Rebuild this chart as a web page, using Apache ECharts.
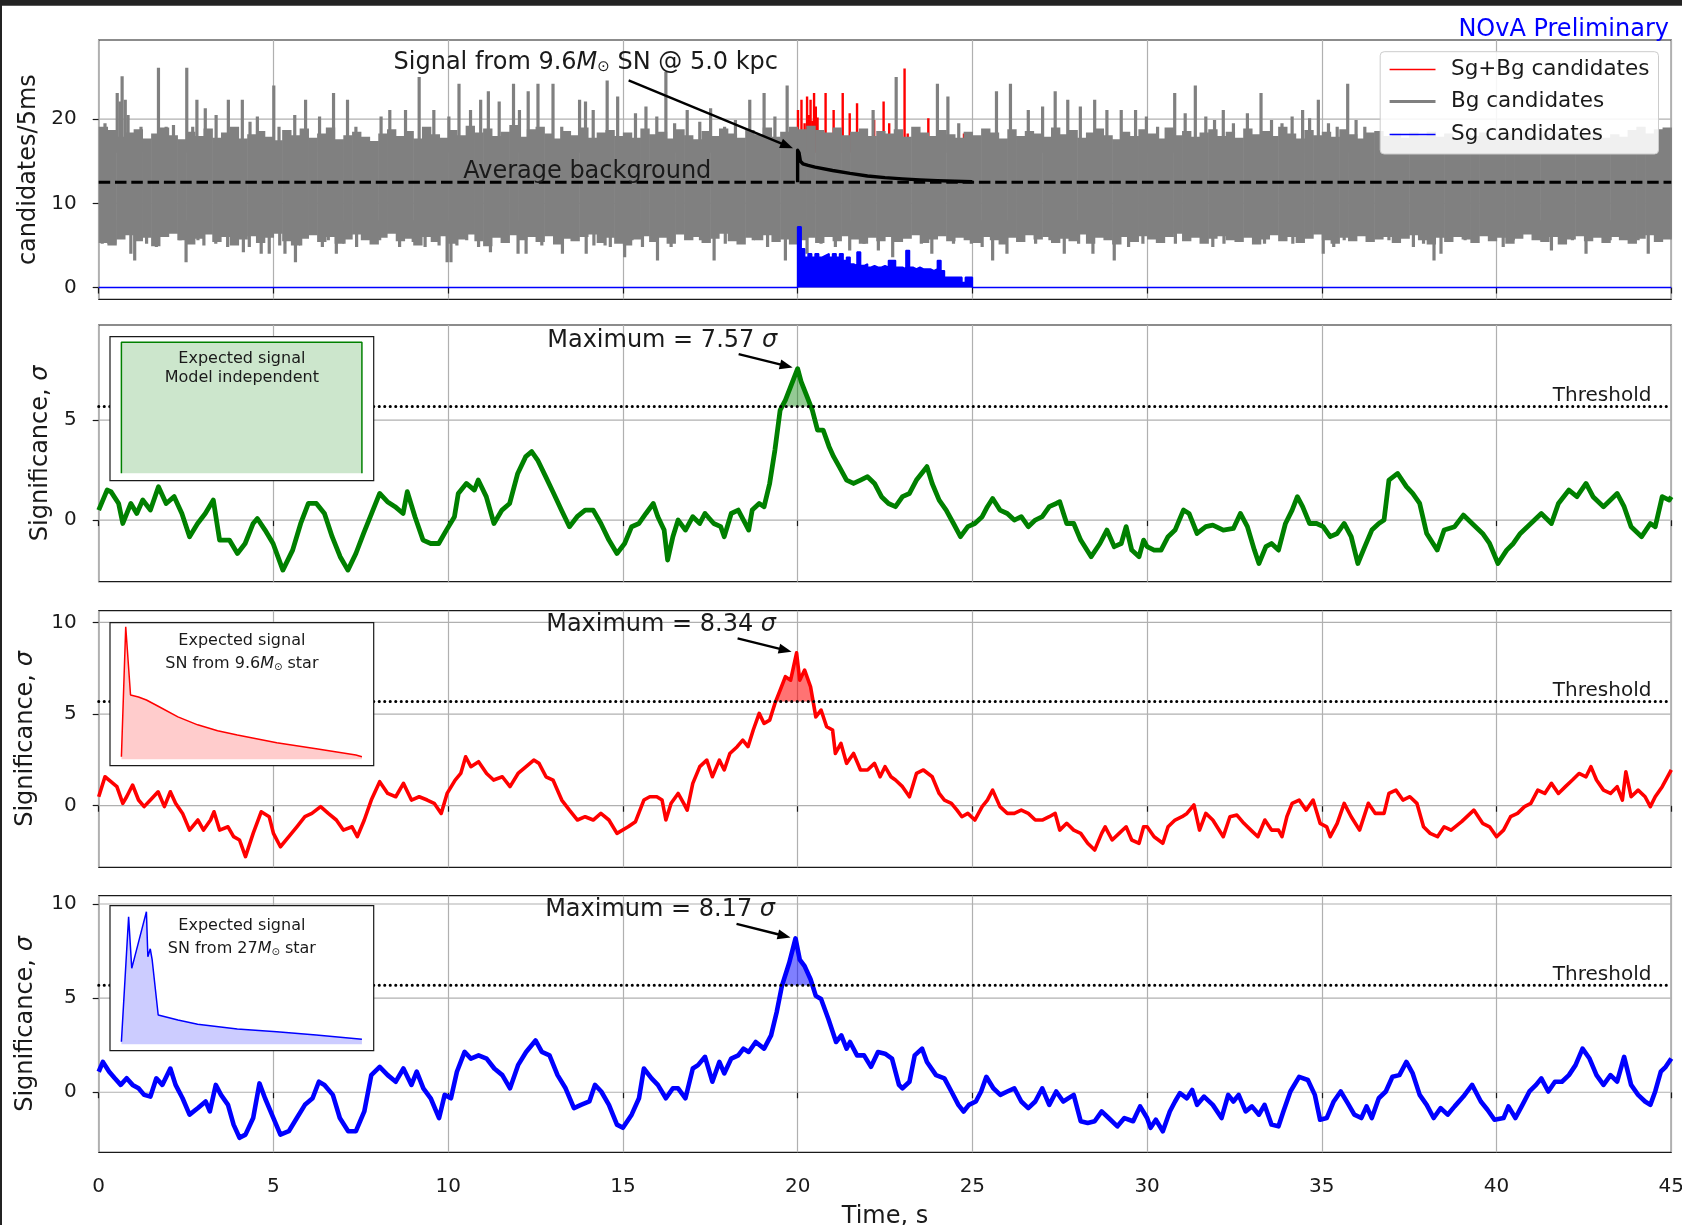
<!DOCTYPE html>
<html>
<head>
<meta charset="utf-8">
<title>NOvA supernova trigger significance</title>
<script src="https://cdn.jsdelivr.net/npm/echarts@6/dist/echarts.min.js"></script>
<style>
  html, body { margin: 0; padding: 0; background: #ffffff; }
  #chart { width: 1682px; height: 1225px; }
</style>
</head>
<body>
<div id="chart"></div>
<script>
// ---------------------------------------------------------------- data
const countTicks = [0, 10, 20];
const sigTicksLow = [0, 5];
const sigTicks = [0, 5, 10];

const AVG_BG = 12.5;        // average background, candidates per 5 ms
const THRESHOLD = 5.68;     // trigger threshold, sigma
const BG_BIN = 0.25;        // seconds per background envelope bin
const SG_START = 20.0;      // supernova signal start, s
const SG_BIN = 0.1;         // seconds per signal envelope bin

// background candidates: solid band envelope per 0.25 s (t = 0 ... 45)
const bgUpper = [
  19.1,18.7,17.9,18.4,18.8,17.7,18.3,19.0,18.1,17.6,
  18.5,18.0,18.9,17.8,18.4,19.1,17.7,18.2,18.6,17.9,
  17.5,18.7,18.1,18.9,17.8,18.3,19.0,17.6,18.1,18.5,
  17.9,17.4,18.3,18.8,18.0,18.6,17.7,19.1,18.2,17.8,
  18.7,18.1,19.2,18.4,18.9,18.0,18.5,19.3,17.9,18.8,
  19.1,18.3,17.7,18.6,18.1,19.0,17.8,18.4,18.7,18.0,
  18.4,17.8,18.9,18.2,18.5,17.7,18.8,18.1,17.6,18.6,
  18.0,18.9,18.3,17.8,18.7,18.2,19.0,17.9,18.5,19.1,
  18.8,19.2,18.7,18.4,19.0,18.1,18.5,18.9,18.0,18.6,
  18.3,18.8,17.9,19.1,18.4,18.0,18.7,18.2,17.8,18.5,
  18.1,18.9,18.4,17.7,18.8,18.0,18.6,18.3,17.9,19.0,
  18.2,18.7,17.8,18.4,18.9,18.1,17.6,18.5,18.0,18.8,
  18.3,17.7,19.0,18.1,18.6,17.9,18.4,18.8,18.0,18.5,
  17.8,18.9,18.2,18.6,18.0,19.1,18.3,17.7,18.7,18.1,
  18.5,17.9,18.8,18.2,17.7,18.4,18.6,18.0,18.3,17.8,
  18.4,18.0,18.5,17.9,18.3,17.7,18.2,18.0,18.4,17.8,
  18.1,18.3,17.7,18.4,17.9,18.2,18.5,17.8,18.1,18.3,
  18.0,18.4,17.8,18.2,17.9,18.7,19.1,18.3,18.8,19.0,
  18.9
];
const bgLower = [
  5.3,5.0,5.7,6.2,5.5,5.9,4.9,6.0,6.4,5.6,
  5.1,5.8,6.3,5.4,6.0,5.0,5.7,6.1,5.3,5.9,
  6.4,5.5,5.0,5.8,6.2,5.4,6.0,5.2,5.7,6.3,
  5.6,5.1,5.9,6.4,5.5,5.8,5.0,6.0,5.4,6.1,
  5.2,5.7,6.3,5.5,4.9,5.9,5.3,6.2,5.6,6.0,
  5.4,6.1,5.1,5.8,5.5,6.0,6.3,5.3,5.9,5.2,
  5.0,5.7,6.1,5.4,5.9,5.2,6.3,5.6,6.0,5.3,
  5.8,6.4,5.5,5.1,5.9,5.6,6.2,5.4,5.7,5.1,
  5.6,5.9,5.3,6.0,5.5,6.1,5.7,5.2,5.9,5.5,
  6.0,5.4,5.8,6.2,5.3,5.7,6.1,5.5,5.9,5.6,
  5.3,6.0,5.6,5.1,5.9,5.4,6.2,5.7,6.0,5.3,
  5.8,5.5,6.3,5.2,5.9,5.6,5.1,6.0,5.4,6.1,
  5.7,5.3,6.0,6.4,5.5,5.9,5.2,5.8,6.1,5.6,
  5.4,5.9,5.1,5.7,6.2,5.5,6.0,5.3,5.8,6.3,
  5.6,5.2,5.9,5.5,6.1,5.4,5.7,6.0,5.3,5.8,
  6.2,5.6,5.1,5.9,5.4,6.0,5.7,5.3,6.1,5.5,
  5.9,5.2,5.8,6.3,5.6,5.4,6.0,5.1,5.7,6.1,
  5.5,5.9,5.3,6.0,5.6,5.2,5.8,6.2,5.4,5.7,
  5.9
];
// background candidates: single-bin excursions outside the band [t, count]
const bgSpikes = [
  [0.1,5.2],[0.18,19.5],[0.29,5.2],[0.46,5.2],[0.53,23.1],[0.61,22.1],[0.67,25.1],[0.76,22.3],[0.84,20.5],[0.92,4.0],
  [1.03,3.2],[1.21,19.1],[1.37,5.2],[1.65,4.8],[1.71,26.1],[1.93,19.1],[2.14,19.3],[2.33,5.6],[2.5,3.0],[2.52,26.1],
  [2.69,19.1],[2.81,22.3],[2.84,5.6],[3.01,5.0],[3.05,21.3],[3.35,5.2],[3.36,20.5],[3.69,4.8],[3.71,22.3],[4.11,22.3],
  [4.14,4.2],[4.31,4.8],[4.33,19.7],[4.54,20.3],[4.65,4.0],[4.88,4.0],[5.01,24.0],[5.16,19.1],[5.18,5.0],[5.33,4.0],
  [5.61,20.5],[5.63,3.0],[5.78,5.0],[5.92,22.3],[6.32,20.3],[6.4,4.8],[6.57,5.6],[6.72,23.1],[6.8,4.0],[7.02,5.2],
  [7.12,22.3],[7.36,19.1],[7.38,4.8],[8.04,5.6],[8.08,20.3],[8.33,21.1],[8.61,4.8],[8.78,21.1],[9.0,5.4],[9.17,25.0],
  [9.34,4.8],[9.59,21.1],[9.74,5.0],[9.97,3.0],[10.02,20.3],[10.08,3.0],[10.25,5.0],[10.31,24.2],[10.53,5.6],[10.64,21.1],
  [10.87,4.8],[10.93,22.3],[11.15,23.3],[11.21,4.2],[11.46,22.1],[11.66,5.6],[11.87,24.2],[12.0,4.0],[12.04,21.1],[12.23,4.0],
  [12.29,23.3],[12.57,24.2],[12.68,5.0],[13.0,24.2],[13.25,19.1],[13.27,4.0],[13.76,22.3],[13.93,22.1],[13.95,4.0],[14.15,21.1],
  [14.17,5.0],[14.49,5.0],[14.55,24.6],[14.64,4.8],[14.85,22.7],[15.05,3.6],[15.26,5.6],[15.36,20.7],[15.56,4.8],[15.66,21.5],
  [15.97,20.3],[15.99,3.2],[16.23,25.6],[16.38,4.8],[16.48,19.5],[16.84,21.1],[17.2,19.7],[17.22,5.6],[17.51,21.3],[17.61,3.2],
  [17.91,19.1],[17.93,5.2],[18.22,19.9],[18.32,5.2],[18.63,22.3],[18.73,5.6],[19.04,23.1],[19.14,4.8],[19.35,20.3],[19.65,3.2],
  [19.7,24.0],[20.27,4.0],[20.67,5.2],[21.08,4.8],[21.49,4.4],[21.9,5.2],[22.16,21.1],[22.31,4.4],[22.72,3.6],[22.82,25.0],
  [23.54,5.2],[23.84,4.0],[24.0,24.2],[24.3,22.7],[24.46,5.2],[24.61,19.5],[24.97,5.2],[25.28,4.8],[25.58,3.2],[25.69,23.3],
  [25.99,4.0],[26.09,24.2],[26.4,5.6],[26.6,21.1],[26.81,5.2],[27.01,21.5],[27.22,5.6],[27.37,23.3],[27.63,4.0],[27.73,22.3],
  [28.04,5.2],[28.09,21.5],[28.45,4.0],[28.5,22.3],[28.85,21.1],[29.06,3.2],[29.26,21.1],[29.47,4.8],[29.67,21.1],[29.88,5.2],
  [29.98,20.3],[30.3,19.1],[30.4,5.6],[30.79,23.1],[30.81,5.2],[31.09,20.7],[31.19,5.6],[31.38,24.0],[31.68,20.3],[31.88,4.8],
  [31.93,19.9],[32.18,21.1],[32.2,5.2],[32.47,19.5],[32.57,5.6],[32.87,20.7],[33.26,23.1],[33.36,5.2],[33.56,19.9],[33.86,19.5],
  [33.96,5.6],[34.15,20.3],[34.17,5.2],[34.45,21.1],[34.65,20.1],[34.9,22.3],[35.04,4.0],[35.19,19.5],[35.34,4.8],[35.44,19.1],
  [35.64,5.6],[35.74,24.2],[35.98,19.9],[36.23,19.1],[36.33,5.6],[36.63,18.3],[36.92,5.6],[37.62,4.8],[37.91,5.2],[38.21,3.2],
  [38.41,4.0],[38.7,5.6],[39.1,5.6],[39.89,5.6],[40.19,4.8],[40.48,5.6],[41.28,5.6],[41.57,4.4],[41.87,5.2],[42.17,5.6],
  [42.56,4.0],[43.25,5.6],[44.05,5.6],[44.34,4.0],[44.84,18.7]
];
// signal + background: bins that rise above the background [t, count]
const sgBgSpikes = [
  [20.01,21.1],[20.11,22.3],[20.2,19.5],[20.27,22.7],[20.32,20.5],[20.37,22.3],[20.42,19.8],[20.47,23.1],[20.52,21.5],
  [20.57,20.2],[20.62,18.3],[20.8,23.1],[21.03,21.1],[21.29,23.1],[21.49,20.7],[21.7,21.9],[21.9,18.3],[22.19,19.9],
  [22.46,22.1],[22.62,19.5],[23.06,26.0],[23.15,18.3],[23.38,18.2],[23.74,20.1],[24.76,18.3]
];
// signal candidates: envelope per 0.1 s from t = 20.0 to 24.9
const sgEnvelope = [
  7.2,4.6,3.6,4.0,3.6,4.0,3.6,3.8,4.0,3.6,
  4.0,3.6,4.0,3.2,3.6,2.8,2.6,4.2,2.6,2.8,
  2.4,2.6,2.4,2.4,2.6,2.4,3.2,3.2,2.4,2.4,
  2.2,4.4,2.4,2.2,2.4,2.2,2.2,2.2,2.0,2.2,
  3.2,2.0,1.2,1.2,1.2,1.2,1.2,0.6,1.2,1.2
];
// expected rate: background plus 9.6 Msun signal at 5 kpc [t, candidates/5ms]
const sgExpected = [
  [20,12.5],[20,16.3],[20.04,16.0],[20.08,15.0],[20.15,14.7],[20.3,14.5],[20.5,14.3],[21,13.9],
  [21.5,13.55],[22,13.25],[22.5,13.05],[23,12.9],[23.5,12.78],[24,12.7],[24.5,12.62],[25,12.57]
];

// significance vs time [t, sigma]
const sigModelIndep = [
  [0,0.5],[0.24,1.5],[0.35,1.42],[0.57,0.83],[0.69,-0.17],[0.92,0.83],[1.09,0.33],[1.26,1.0],[1.48,0.5],[1.71,1.67],
  [1.93,0.83],[2.16,1.17],[2.38,0.33],[2.6,-0.83],[2.83,-0.17],[3.05,0.33],[3.28,1.0],[3.46,-1.0],[3.74,-1.0],[3.97,-1.67],
  [4.19,-1.17],[4.42,-0.17],[4.54,0.08],[4.76,-0.5],[4.99,-1.17],[5.27,-2.5],[5.55,-1.5],[5.78,-0.17],[6.0,0.83],[6.23,0.83],
  [6.46,0.33],[6.68,-0.83],[6.91,-1.83],[7.13,-2.5],[7.36,-1.67],[7.58,-0.67],[7.81,0.33],[8.04,1.33],[8.26,0.92],[8.48,0.67],
  [8.71,0.33],[8.83,1.42],[9.05,0.17],[9.28,-1.0],[9.5,-1.17],[9.73,-1.17],[9.95,-0.5],[10.18,0.17],[10.29,1.33],[10.52,1.83],
  [10.75,1.5],[10.86,2.0],[11.09,1.17],[11.31,-0.17],[11.54,0.5],[11.76,0.83],[11.99,2.33],[12.22,3.17],[12.39,3.42],[12.56,3.0],
  [12.79,2.17],[13.02,1.33],[13.24,0.5],[13.47,-0.33],[13.69,0.17],[13.92,0.5],[14.15,0.5],[14.37,-0.17],[14.6,-1.0],[14.83,-1.67],
  [15.05,-1.17],[15.25,-0.33],[15.46,-0.17],[15.66,0.33],[15.87,0.83],[16.0,0.17],[16.18,-0.5],[16.28,-2.0],[16.43,-0.83],[16.58,0.0],
  [16.79,-0.5],[17.0,0.17],[17.2,-0.17],[17.35,0.33],[17.6,-0.17],[17.8,-0.33],[17.9,-0.83],[18.1,0.33],[18.3,0.5],[18.5,-0.17],
  [18.6,-0.5],[18.7,0.5],[18.9,0.83],[19.04,0.67],[19.2,1.83],[19.35,3.5],[19.5,5.5],[19.65,6.0],[19.8,6.67],[20.0,7.57],
  [20.1,6.92],[20.27,6.17],[20.42,5.5],[20.57,4.5],[20.73,4.5],[20.9,3.67],[21.03,3.17],[21.19,2.67],[21.4,2.0],[21.6,1.83],
  [21.8,2.0],[22.0,2.17],[22.2,1.83],[22.4,1.17],[22.6,0.83],[22.8,0.67],[23.0,1.17],[23.2,1.33],[23.4,2.0],[23.7,2.67],
  [23.85,1.83],[24.05,1.0],[24.25,0.5],[24.46,-0.17],[24.66,-0.83],[24.87,-0.33],[25.07,-0.17],[25.28,0.17],[25.43,0.67],[25.58,1.08],
  [25.79,0.5],[26.0,0.33],[26.2,0.0],[26.4,0.17],[26.6,-0.33],[26.8,0.0],[27.0,0.17],[27.2,0.67],[27.4,0.83],[27.5,0.92],
  [27.7,-0.17],[27.9,-0.17],[28.1,-1.0],[28.4,-1.83],[28.65,-1.17],[28.85,-0.5],[29.06,-1.33],[29.26,-1.17],[29.4,-0.33],[29.56,-1.5],
  [29.77,-1.83],[29.9,-1.0],[30.0,-1.33],[30.2,-1.5],[30.4,-1.5],[30.6,-0.83],[30.8,-0.5],[31.04,0.5],[31.2,0.33],[31.43,-0.67],
  [31.68,-0.33],[31.88,-0.25],[32.18,-0.5],[32.47,-0.42],[32.67,0.33],[32.87,-0.33],[33.07,-1.5],[33.2,-2.17],[33.4,-1.33],[33.56,-1.17],
  [33.76,-1.5],[33.96,-0.17],[34.15,0.5],[34.3,1.17],[34.45,0.67],[34.65,-0.17],[34.85,-0.17],[35.04,-0.33],[35.24,-0.83],[35.44,-0.67],
  [35.64,-0.17],[35.84,-0.83],[36.03,-2.17],[36.23,-1.33],[36.43,-0.5],[36.63,-0.17],[36.78,0.0],[36.92,2.0],[37.17,2.33],[37.42,1.67],
  [37.6,1.33],[37.8,0.83],[38.0,-0.67],[38.3,-1.5],[38.5,-0.5],[38.8,-0.33],[39.05,0.25],[39.3,-0.17],[39.6,-0.67],[39.8,-1.17],
  [40.04,-2.17],[40.29,-1.5],[40.48,-1.17],[40.68,-0.67],[40.98,-0.17],[41.28,0.33],[41.57,-0.17],[41.77,0.83],[42.07,1.5],[42.3,1.17],
  [42.56,1.83],[42.76,1.17],[43.06,0.67],[43.45,1.33],[43.65,0.67],[43.85,-0.33],[44.15,-0.83],[44.4,-0.17],[44.54,-0.33],[44.74,1.17],
  [44.94,1.0],[45,1.17]
];
const sigSN96 = [
  [0,0.49],[0.18,1.58],[0.35,1.31],[0.52,1.04],[0.69,0.13],[0.8,0.49],[0.97,1.13],[1.14,0.31],[1.3,-0.05],[1.48,0.31],
  [1.7,0.76],[1.88,-0.05],[2.05,0.76],[2.2,0.13],[2.4,-0.42],[2.6,-1.33],[2.84,-0.78],[3.0,-1.33],[3.2,-0.78],[3.3,-0.33],
  [3.46,-1.33],[3.7,-1.15],[3.86,-1.69],[4.03,-1.87],[4.2,-2.78],[4.42,-1.51],[4.65,-0.33],[4.88,-0.6],[5.0,-1.51],[5.2,-2.24],
  [5.44,-1.69],[5.67,-1.15],[5.9,-0.6],[6.1,-0.42],[6.35,-0.05],[6.57,-0.42],[6.8,-0.78],[7.0,-1.33],[7.25,-1.15],[7.4,-1.69],
  [7.6,-0.78],[7.8,0.31],[8.04,1.31],[8.27,0.67],[8.5,0.49],[8.72,1.22],[8.95,0.31],[9.17,0.49],[9.4,0.31],[9.6,0.13],
  [9.8,-0.42],[9.97,0.67],[10.2,1.4],[10.36,1.76],[10.5,2.67],[10.65,2.13],[10.87,2.4],[11.1,1.76],[11.3,1.4],[11.55,1.58],
  [11.77,1.04],[12.0,1.76],[12.23,2.13],[12.45,2.49],[12.6,2.31],[12.8,1.58],[13.0,1.4],[13.25,0.31],[13.47,-0.24],[13.7,-0.78],
  [13.92,-0.6],[14.15,-0.78],[14.37,-0.42],[14.6,-0.78],[14.83,-1.51],[15.15,-1.15],[15.36,-0.87],[15.6,0.31],[15.77,0.49],[15.97,0.49],
  [16.12,0.31],[16.23,-0.78],[16.38,0.13],[16.58,0.67],[16.74,0.13],[16.84,-0.24],[17.0,1.22],[17.2,2.13],[17.4,2.49],[17.56,1.58],
  [17.76,2.49],[17.9,1.95],[18.06,2.85],[18.27,3.22],[18.43,3.58],[18.58,3.22],[18.73,4.13],[18.9,5.04],[19.04,4.49],[19.2,4.67],
  [19.35,5.58],[19.5,6.31],[19.65,7.04],[19.8,6.85],[19.97,8.34],[20.06,6.85],[20.2,7.4],[20.37,6.49],[20.52,4.85],[20.67,5.22],
  [20.83,4.31],[21.0,4.13],[21.08,2.85],[21.24,3.4],[21.4,2.31],[21.6,2.85],[21.8,1.95],[22.0,1.95],[22.2,2.31],[22.36,1.58],
  [22.5,2.13],[22.67,1.58],[22.8,1.4],[23.0,1.04],[23.2,0.49],[23.4,1.76],[23.6,1.95],[23.85,1.58],[24.05,0.67],[24.2,0.31],
  [24.4,0.13],[24.56,-0.24],[24.7,-0.6],[24.87,-0.42],[25.07,-0.78],[25.28,-0.05],[25.43,0.31],[25.58,0.85],[25.79,-0.05],[26.0,-0.42],
  [26.2,-0.42],[26.4,-0.24],[26.6,-0.42],[26.8,-0.78],[27.0,-0.78],[27.2,-0.6],[27.37,-0.42],[27.5,-1.33],[27.7,-0.96],[27.9,-1.33],
  [28.1,-1.51],[28.3,-2.05],[28.5,-2.42],[28.7,-1.51],[28.8,-1.15],[29.0,-1.87],[29.2,-1.51],[29.4,-1.15],[29.56,-1.87],[29.77,-2.05],
  [29.9,-1.15],[30.0,-1.15],[30.2,-1.69],[30.45,-2.05],[30.6,-1.15],[30.8,-0.78],[31.0,-0.6],[31.14,-0.42],[31.34,0.04],[31.5,-1.33],
  [31.68,-0.42],[31.88,-0.78],[32.18,-1.69],[32.37,-0.6],[32.57,-0.51],[32.77,-0.96],[32.97,-1.33],[33.17,-1.69],[33.37,-0.78],[33.56,-1.33],
  [33.76,-1.33],[33.86,-1.69],[34.0,-0.6],[34.15,0.13],[34.35,0.31],[34.55,-0.24],[34.75,0.31],[34.95,-0.96],[35.14,-1.15],[35.24,-1.69],
  [35.44,-0.96],[35.64,0.13],[35.84,-0.6],[36.08,-1.33],[36.33,0.13],[36.53,-0.42],[36.78,-0.42],[36.92,0.67],[37.12,0.85],[37.32,0.31],
  [37.52,0.49],[37.72,0.13],[37.91,-1.15],[38.1,-1.51],[38.31,-1.69],[38.5,-1.15],[38.7,-1.33],[39.0,-0.87],[39.35,-0.24],[39.6,-0.96],
  [39.8,-1.15],[40.0,-1.69],[40.2,-1.33],[40.4,-0.6],[40.6,-0.42],[40.8,-0.05],[40.98,0.13],[41.18,0.85],[41.38,0.67],[41.57,1.22],
  [41.77,0.67],[41.97,1.04],[42.17,1.4],[42.36,1.76],[42.56,1.58],[42.7,2.13],[42.86,1.4],[43.06,0.85],[43.26,0.67],[43.45,1.04],
  [43.6,0.31],[43.7,1.85],[43.85,0.49],[44.05,0.85],[44.25,0.49],[44.4,-0.05],[44.54,0.49],[44.74,1.04],[45.0,1.95]
];
const sigSN27 = [
  [0,1.09],[0.12,1.61],[0.3,1.09],[0.46,0.74],[0.63,0.39],[0.8,0.74],[0.97,0.39],[1.14,0.21],[1.3,-0.14],[1.48,-0.23],
  [1.65,0.74],[1.82,0.39],[2.05,1.26],[2.2,0.39],[2.4,-0.32],[2.6,-1.19],[2.84,-0.84],[3.06,-0.49],[3.18,-1.02],[3.35,0.39],
  [3.5,-0.14],[3.7,-0.67],[3.86,-1.72],[4.03,-2.42],[4.2,-2.25],[4.42,-1.37],[4.6,0.47],[4.76,-0.32],[5.0,-1.37],[5.2,-2.25],
  [5.44,-2.07],[5.67,-1.37],[5.9,-0.67],[6.12,-0.32],[6.3,0.56],[6.46,0.39],[6.7,-0.14],[6.9,-1.37],[7.14,-2.07],[7.36,-2.07],
  [7.6,-1.02],[7.8,0.91],[8.04,1.35],[8.27,0.91],[8.5,0.56],[8.72,1.26],[8.95,0.39],[9.1,1.09],[9.29,0.21],[9.5,-0.32],
  [9.74,-1.37],[9.9,-0.14],[10.08,-0.32],[10.25,1.09],[10.47,2.14],[10.65,1.79],[10.87,1.96],[11.1,1.79],[11.32,1.26],[11.55,0.91],
  [11.77,0.21],[12.0,1.44],[12.23,2.14],[12.5,2.75],[12.68,2.14],[12.9,1.96],[13.13,0.91],[13.36,0.21],[13.6,-0.84],[13.8,-0.67],
  [14.04,-0.49],[14.2,0.39],[14.38,0.04],[14.6,-0.67],[14.83,-1.72],[15.0,-1.89],[15.25,-1.19],[15.46,-0.32],[15.6,1.26],[15.82,0.74],
  [16.0,0.39],[16.23,-0.32],[16.43,0.21],[16.58,0.21],[16.79,-0.32],[17.0,1.26],[17.15,1.44],[17.35,1.88],[17.56,0.56],[17.76,1.61],
  [17.9,1.0],[18.1,1.79],[18.3,1.96],[18.45,2.32],[18.6,2.14],[18.8,2.67],[19.04,2.32],[19.24,3.02],[19.4,4.25],[19.55,5.65],
  [19.76,6.88],[19.94,8.17],[20.06,7.05],[20.2,6.7],[20.37,6.0],[20.52,5.12],[20.67,4.95],[20.88,3.89],[21.1,2.67],[21.25,3.02],
  [21.4,2.32],[21.5,2.67],[21.7,1.96],[21.9,1.96],[22.1,1.35],[22.3,2.14],[22.5,2.05],[22.7,1.79],[22.9,0.39],[23.0,0.21],
  [23.2,0.56],[23.35,1.96],[23.56,2.32],[23.7,1.61],[23.96,0.91],[24.2,0.74],[24.4,0.04],[24.6,-0.67],[24.75,-1.02],[24.9,-0.67],
  [25.1,-0.49],[25.25,0.04],[25.4,0.82],[25.6,0.21],[25.8,-0.14],[26.0,0.04],[26.2,0.21],[26.4,-0.49],[26.6,-0.84],[26.8,-0.49],
  [27.0,0.21],[27.2,-0.67],[27.4,0.04],[27.6,-0.49],[27.9,-0.14],[28.1,-1.54],[28.3,-1.63],[28.5,-1.54],[28.7,-1.02],[28.9,-1.37],
  [29.15,-1.81],[29.35,-1.37],[29.6,-1.54],[29.8,-0.75],[30.0,-1.37],[30.1,-1.89],[30.25,-1.46],[30.45,-2.07],[30.65,-1.02],[30.8,-0.49],
  [30.94,-0.05],[31.14,-0.32],[31.29,0.12],[31.43,-0.67],[31.63,-0.23],[31.88,-0.67],[32.13,-1.37],[32.32,-0.14],[32.47,-0.49],[32.62,-0.14],
  [32.82,-1.02],[33.0,-0.75],[33.2,-1.19],[33.36,-0.67],[33.56,-1.72],[33.76,-1.81],[33.9,-1.02],[34.1,0.04],[34.35,0.82],[34.6,0.65],
  [34.8,-0.14],[34.95,-1.46],[35.14,-1.37],[35.34,-0.49],[35.54,0.04],[35.74,-0.58],[35.93,-1.19],[36.13,-1.37],[36.28,-0.75],[36.43,-1.37],
  [36.63,-0.32],[36.83,0.04],[37.02,0.82],[37.22,0.91],[37.42,1.61],[37.6,1.0],[37.8,-0.14],[38.0,-0.67],[38.2,-1.37],[38.4,-0.84],
  [38.6,-1.19],[38.8,-0.75],[39.05,-0.23],[39.3,0.39],[39.55,-0.49],[39.74,-0.93],[39.94,-1.46],[40.2,-1.37],[40.34,-0.75],[40.54,-1.37],
  [40.74,-0.67],[40.94,0.04],[41.13,0.39],[41.28,0.74],[41.48,0.04],[41.67,0.56],[41.87,0.56],[42.07,0.91],[42.26,1.44],[42.46,2.32],
  [42.66,1.79],[42.86,0.91],[43.06,0.39],[43.26,0.91],[43.45,0.56],[43.65,1.88],[43.85,0.39],[44.05,-0.14],[44.25,-0.49],[44.4,-0.67],
  [44.54,0.04],[44.7,1.09],[44.84,1.35],[45.0,1.79]
];

// expected signal shapes for the insets [model time, relative rate]
const shapeFlat = [[0,0],[0,1],[10,1],[10,0]];
const shapeSN96 = [
  [0,0.02],[0.18,1.0],[0.38,0.485],[0.71,0.47],[1.04,0.447],[1.53,0.40],[2.35,0.32],[3.17,0.26],
  [4.0,0.216],[4.82,0.183],[6.46,0.125],[8.1,0.08],[9.75,0.032],[10,0.02]
];
const shapeSN27 = [
  [0,0.02],[0.3,0.962],[0.43,0.573],[1.04,1.0],[1.1,0.66],[1.2,0.72],[1.28,0.636],[1.53,0.221],
  [2.35,0.183],[3.17,0.151],[4.82,0.115],[6.46,0.095],[8.1,0.07],[10,0.038]
];

// ---------------------------------------------------------------- layout & style
const FONT = 'DejaVu Sans';
const INK = '#1a1a1a';
const GRID_COLOR = '#b0b0b0';
const LEFT = 98.7, RIGHT = 10.7;

const PANELS = [
  { top: 40,    height: 259.3, min: -1.4,  max: 29.4,  ticks: countTicks,  name: 'candidates/5ms',     nameGap: 55 },
  { top: 325,   height: 256.7, min: -3.08, max: 9.75,  ticks: sigTicksLow, name: 'Significance, {i|σ}', nameGap: 45 },
  { top: 610.7, height: 256.6, min: -3.36, max: 10.64, ticks: sigTicks,    name: 'Significance, {i|σ}', nameGap: 61 },
  { top: 895.7, height: 256.6, min: -3.19, max: 10.44, ticks: sigTicks,    name: 'Significance, {i|σ}', nameGap: 61 }
];

const SIG = [
  { data: sigModelIndep, color: '#008000', fill: 'rgba(0,128,0,0.42)', width: 4.8,
    shape: shapeFlat, shapeFill: 'rgba(0,128,0,0.2)', lines: ['Expected signal', 'Model independent'],
    inset: { top: 336.7, height: 144, ymin: -0.056, ymax: 1.043 }, textY: [22.6, 41.6] },
  { data: sigSN96, color: '#ff0000', fill: 'rgba(255,0,0,0.55)', width: 3.6,
    shape: shapeSN96, shapeFill: 'rgba(255,0,0,0.2)', lines: ['Expected signal', 'SN from 9.6{mi|M}{sub|⊙} star'],
    inset: { top: 622.7, height: 143, ymin: -0.048, ymax: 1.03 }, textY: [18.3, 41.3] },
  { data: sigSN27, color: '#0000ff', fill: 'rgba(0,0,255,0.5)', width: 4.6,
    shape: shapeSN27, shapeFill: 'rgba(0,0,255,0.2)', lines: ['Expected signal', 'SN from 27{mi|M}{sub|⊙} star'],
    inset: { top: 905.7, height: 145, ymin: -0.048, ymax: 1.045 }, textY: [20.3, 43.3] }
];
const INSET_LEFT = 110, INSET_WIDTH = 263.7;

function richFor(size) {
  return {
    i:   { fontStyle: 'italic', fontSize: size, fontFamily: FONT, fill: INK, color: INK },
    mi:  { fontStyle: 'italic', fontSize: size, fontFamily: FONT, fill: INK, color: INK },
    sub: { fontSize: Math.round(size * 0.62), fontFamily: FONT, fill: INK, color: INK, verticalAlign: 'bottom' }
  };
}

// ---------------------------------------------------------------- axes
const grids = [], xAxes = [], yAxes = [], series = [];

PANELS.forEach((p, i) => {
  grids.push({ left: LEFT, right: RIGHT, top: p.top, height: p.height, show: true,
    backgroundColor: 'transparent', borderColor: INK, borderWidth: 1.2,
    containLabel: false, outerBoundsMode: 'none' });
  const last = i === PANELS.length - 1;
  xAxes.push({
    type: 'value', gridIndex: i, min: 0, max: 45, interval: 5,
    axisLine: { show: false },
    axisTick: { show: true, inside: false, length: 6, lineStyle: { color: INK, width: 1.2 } },
    axisLabel: { show: last, fontSize: 20, fontFamily: FONT, color: INK, margin: 24 },
    splitLine: { show: true, lineStyle: { color: GRID_COLOR, width: 1.2 } },
    name: last ? 'Time, s' : '', nameLocation: 'middle', nameGap: 52,
    nameTextStyle: { fontSize: 24, fontFamily: FONT, color: INK }
  });
  yAxes.push({
    type: 'value', gridIndex: i, min: p.min, max: p.max, position: 'left',
    axisLine: { show: false },
    axisTick: { show: true, inside: false, length: 6, customValues: p.ticks, lineStyle: { color: INK, width: 1.2 } },
    axisLabel: { show: true, customValues: p.ticks, fontSize: 20, fontFamily: FONT, color: INK, margin: 22 },
    splitLine: { show: false },
    name: p.name, nameLocation: 'middle', nameGap: p.nameGap, nameRotate: 90,
    nameTextStyle: { fontSize: 24, fontFamily: FONT, color: INK, rich: richFor(24) }
  });
  // horizontal grid lines at the tick values
  p.ticks.forEach(v => series.push({
    type: 'line', xAxisIndex: i, yAxisIndex: i, data: [[0, v], [45, v]], symbol: 'none', silent: true,
    lineStyle: { color: GRID_COLOR, width: 1.2 }, z: 1
  }));
});

// inset axes (hidden), one per significance panel
SIG.forEach((s, k) => {
  const gi = PANELS.length + k;
  grids.push({ left: INSET_LEFT, width: INSET_WIDTH, top: s.inset.top, height: s.inset.height, show: true,
    backgroundColor: '#ffffff', borderColor: INK, borderWidth: 1.2, z: 10,
    containLabel: false, outerBoundsMode: 'none' });
  xAxes.push({ type: 'value', gridIndex: gi, min: -0.474, max: 10.49, show: false });
  yAxes.push({ type: 'value', gridIndex: gi, min: s.inset.ymin, max: s.inset.ymax, show: false });
});

// ---------------------------------------------------------------- top panel: candidates per 5 ms
function spikeRenderer(color, halfWidth) {
  return function (params, api) {
    const t = api.value(0), v = api.value(1);
    const base = v > AVG_BG ? 16 : 8;
    const a = api.coord([t, v]), b = api.coord([t, base]);
    return { type: 'rect',
      shape: { x: a[0] - halfWidth, y: Math.min(a[1], b[1]), width: halfWidth * 2, height: Math.abs(b[1] - a[1]) },
      style: { fill: color } };
  };
}

series.push({
  name: 'Sg+Bg candidates', type: 'custom', xAxisIndex: 0, yAxisIndex: 0, clip: true, silent: true,
  data: sgBgSpikes, encode: { x: 0, y: 1 }, renderItem: spikeRenderer('#ff0000', 1.2), z: 2
});
series.push({
  name: 'Bg candidates', type: 'custom', xAxisIndex: 0, yAxisIndex: 0, clip: true, silent: true,
  data: bgUpper.map((u, i) => [i * BG_BIN, bgLower[i], u]), encode: { x: 0, y: [1, 2] },
  renderItem: function (params, api) {
    const t = api.value(0);
    const a = api.coord([t, api.value(2)]);
    const b = api.coord([Math.min(t + BG_BIN, 45), api.value(1)]);
    return { type: 'rect', shape: { x: a[0], y: a[1], width: Math.max(0, b[0] - a[0] + 0.6), height: b[1] - a[1] },
      style: { fill: '#808080' } };
  }, z: 3
});
series.push({
  type: 'custom', xAxisIndex: 0, yAxisIndex: 0, clip: true, silent: true,
  data: bgSpikes, encode: { x: 0, y: 1 }, renderItem: spikeRenderer('#808080', 1.6), z: 3
});
const sgLine = [[0, 0], [SG_START, 0]]
  .concat(sgEnvelope.map((v, i) => [+(SG_START + i * SG_BIN).toFixed(2), v]))
  .concat([[+(SG_START + sgEnvelope.length * SG_BIN).toFixed(2), 0], [45, 0]]);
series.push({
  name: 'Sg candidates', type: 'line', xAxisIndex: 0, yAxisIndex: 0, data: sgLine, step: 'end',
  symbol: 'none', silent: true, lineStyle: { color: '#0000ff', width: 1.6 },
  areaStyle: { color: '#0000ff', opacity: 1 }, z: 5
});
series.push({
  type: 'line', xAxisIndex: 0, yAxisIndex: 0, data: [[0, AVG_BG], [45, AVG_BG]], symbol: 'none', silent: true,
  lineStyle: { color: '#000000', width: 3, type: [11.5, 4.8] }, z: 6
});
series.push({
  type: 'line', xAxisIndex: 0, yAxisIndex: 0, data: sgExpected, symbol: 'none', silent: true,
  lineStyle: { color: '#000000', width: 3.4, join: 'round' }, z: 7
});

// ---------------------------------------------------------------- significance panels
function aboveThreshold(data, thr) {
  let iMax = 0;
  data.forEach((p, i) => { if (p[1] > data[iMax][1]) iMax = i; });
  let a = iMax, b = iMax;
  while (a > 0 && data[a - 1][1] >= thr) a--;
  while (b < data.length - 1 && data[b + 1][1] >= thr) b++;
  const out = [];
  const cross = (p, q) => [p[0] + (thr - p[1]) / (q[1] - p[1]) * (q[0] - p[0]), thr];
  if (a > 0) out.push(cross(data[a - 1], data[a]));
  for (let i = a; i <= b; i++) out.push(data[i]);
  if (b < data.length - 1) out.push(cross(data[b], data[b + 1]));
  return out;
}

SIG.forEach((s, k) => {
  const gi = k + 1;
  const region = aboveThreshold(s.data, THRESHOLD);
  series.push({
    type: 'custom', xAxisIndex: gi, yAxisIndex: gi, silent: true, data: [region[0]], encode: { x: 0, y: 1 },
    renderItem: (params, api) => ({ type: 'polygon',
      shape: { points: region.map(p => api.coord(p)) }, style: { fill: s.fill } }), z: 2
  });
  series.push({
    type: 'line', xAxisIndex: gi, yAxisIndex: gi, data: s.data, symbol: 'none', silent: true,
    lineStyle: { color: s.color, width: s.width, join: 'round' }, z: 4
  });
  series.push({
    type: 'line', xAxisIndex: gi, yAxisIndex: gi, data: [[0, THRESHOLD], [45, THRESHOLD]], symbol: 'none', silent: true,
    lineStyle: { color: '#000000', width: 3, type: [0.1, 5.4], cap: 'round' }, z: 5
  });
  const ig = PANELS.length + k;
  series.push({
    type: 'line', xAxisIndex: ig, yAxisIndex: ig, data: s.shape, symbol: 'none', silent: true,
    lineStyle: { color: s.color, width: 1.5 }, areaStyle: { color: s.shapeFill, opacity: 1 }, z: 12
  });
});

// ---------------------------------------------------------------- render
const chart = echarts.init(document.getElementById('chart'), null, { renderer: 'canvas' });
chart.setOption({
  animation: false,
  backgroundColor: '#ffffff',
  grid: grids, xAxis: xAxes, yAxis: yAxes, series: series
});

// ---------------------------------------------------------------- annotations
const px = (gi, p) => chart.convertToPixel({ gridIndex: gi }, p);
const els = [];

function text(str, x, y, align, size, extra) {
  return { type: 'text', x: x, y: y, z: 100, silent: true,
    style: Object.assign({ text: str, fill: INK, fontFamily: FONT, fontSize: size,
      align: align, verticalAlign: 'middle', rich: richFor(size) }, extra || {}) };
}
function arrow(from, to) {
  const dx = to[0] - from[0], dy = to[1] - from[1];
  const L = Math.hypot(dx, dy), ux = dx / L, uy = dy / L;
  const hl = 13, hw = 5;
  const bx = to[0] - ux * hl, by = to[1] - uy * hl;
  return [
    { type: 'line', z: 100, silent: true, shape: { x1: from[0], y1: from[1], x2: bx + ux * 2, y2: by + uy * 2 },
      style: { stroke: '#000', lineWidth: 2.4 } },
    { type: 'polygon', z: 100, silent: true,
      shape: { points: [to, [bx - uy * hw, by + ux * hw], [bx + uy * hw, by - ux * hw]] },
      style: { fill: '#000' } }
  ];
}

// screen-capture border
els.push({ type: 'rect', z: 200, silent: true, shape: { x: 0, y: 0, width: 1682, height: 5.7 }, style: { fill: '#232323' } });
els.push({ type: 'rect', z: 200, silent: true, shape: { x: 0, y: 0, width: 2, height: 1225 }, style: { fill: '#232323' } });

els.push(text('NOvA Preliminary', 1669, 29.5, 'right', 24, { fill: '#0000ff' }));

// top panel annotations
const sgPeak = sgExpected.reduce((a, p) => (p[1] > a[1] ? p : a));
const SP = px(0, sgPeak);
els.push(text('Signal from 9.6{mi|M}{sub|⊙} SN @ 5.0 kpc', SP[0] - 19.6, SP[1] - 87.5, 'right', 24));
els.push(...arrow([SP[0] - 169, SP[1] - 70], [SP[0] - 4.6, SP[1] - 2]));
const AB = px(0, [10.43, AVG_BG]);
els.push(text('Average background', AB[0], AB[1] - 11, 'left', 24));

// legend
const LG = { x: 1380.2, y: 51.7, w: 278.3, h: 102.3 };
els.push({ type: 'rect', z: 90, silent: true, shape: { x: LG.x, y: LG.y, width: LG.w, height: LG.h, r: 4 },
  style: { fill: 'rgba(255,255,255,0.88)', stroke: '#cccccc', lineWidth: 1 } });
[['Sg+Bg candidates', '#ff0000', 1.5, 69.5], ['Bg candidates', '#808080', 3, 101.5], ['Sg candidates', '#0000ff', 1.5, 134.5]]
  .forEach(([label, color, w, y]) => {
    els.push({ type: 'line', z: 95, silent: true, shape: { x1: 1389.6, y1: y, x2: 1435.5, y2: y },
      style: { stroke: color, lineWidth: w } });
    els.push(text(label, 1451, y, 'left', 21.5));
  });

// significance panel annotations
SIG.forEach((s, k) => {
  const gi = k + 1;
  const peak = s.data.reduce((a, p) => (p[1] > a[1] ? p : a));
  const P = px(gi, peak);
  els.push(text('Maximum = ' + peak[1].toFixed(2) + ' {i|σ}', P[0] - 20.5, P[1] - 28.3, 'right', 24));
  els.push(...arrow([P[0] - 59, P[1] - 14.5], [P[0] - 5, P[1] - 1]));
  const T = px(gi, [44.43, THRESHOLD]);
  els.push(text('Threshold', T[0], T[1] - 10.6, 'right', 20));
  const cx = INSET_LEFT + INSET_WIDTH / 2;
  els.push(text(s.lines[0], cx, s.inset.top + s.textY[0], 'center', 16));
  els.push(text(s.lines[1], cx, s.inset.top + s.textY[1], 'center', 16));
});

chart.setOption({ graphic: { elements: els } });
</script>
</body>
</html>
